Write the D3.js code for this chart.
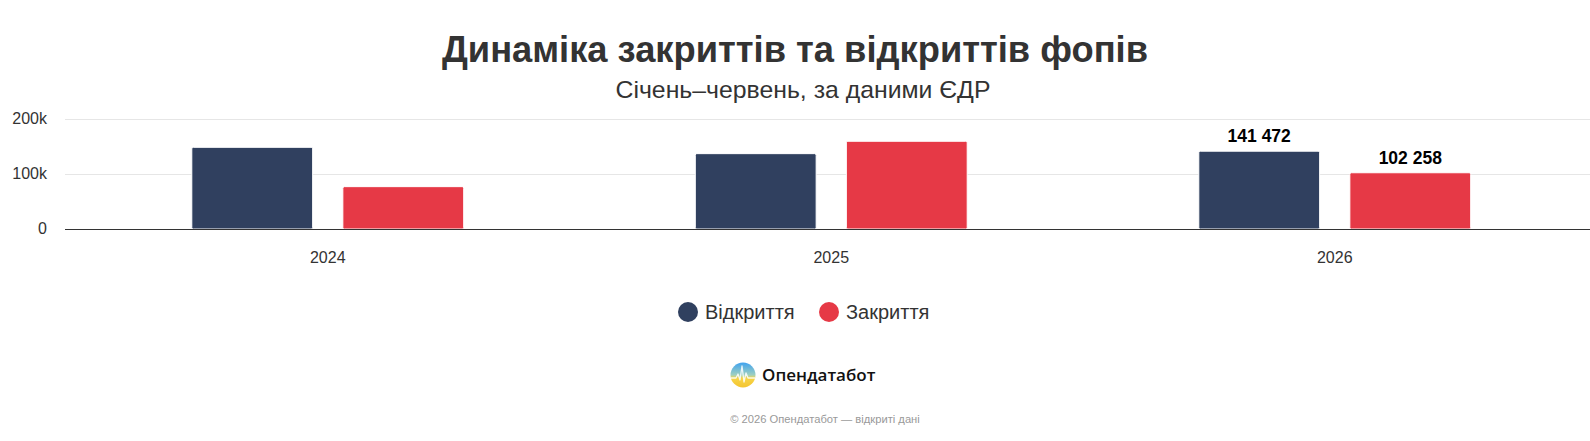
<!DOCTYPE html>
<html lang="uk">
<head>
    <meta charset="UTF-8">
    <title>Динаміка закриттів та відкриттів фопів</title>
    <script src="https://d3js.org/d3.v7.min.js"></script>
    <style>
        body {
            margin: 0;
            background: #fff;
            font-family: "Liberation Sans", Arial, Helvetica, sans-serif;
        }
        svg { display: block; }
        .grid line { stroke: #e6e6e6; }
        .tick-label { fill: #333; font-size: 16px; }
    </style>
</head>
<body>
    <svg width="1590" height="441"></svg>

    <script>
        // data
        const years = ["2024", "2025", "2026"];
        const seriesNames = ["Відкриття", "Закриття"];
        const openings = [148500, 137000, 141472];
        const closings = [77000, 159500, 102258];
        const yTicks = [0, 100000, 200000];
        const yTickLabels = ["0", "100k", "200k"];
        const colors = ["#30405f", "#e63946"];
        // only the last year gets value labels
        const labelledYear = "2026";

        const width = 1590;
        const height = 441;
        const margin = { top: 119, bottom: 229, left: 65, bandLeft: 76, bandRight: 1586.5 };

        const svg = d3.select("svg");

        const rows = years.map((y, i) => ({ year: y, values: [openings[i], closings[i]] }));

        // scales
        const x0 = d3.scaleBand()
            .domain(years)
            .range([margin.bandLeft, margin.bandRight]);

        const bw = x0.bandwidth();
        const x1 = d3.scaleBand()
            .domain(seriesNames)
            .range([0.2 * bw, 0.8 * bw])
            .paddingInner(0.2)
            .paddingOuter(0.1);

        const yScale = d3.scaleLinear()
            .domain([0, 200000])
            .range([margin.bottom, margin.top]);

        // title
        svg.append("text")
            .attr("x", width / 2)
            .attr("y", 62)
            .attr("text-anchor", "middle")
            .style("font-size", "36.3px")
            .style("font-weight", "bold")
            .style("fill", "#333")
            .text("Динаміка закриттів та відкриттів фопів");

        svg.append("text")
            .attr("x", width / 2 + 8)
            .attr("y", 98)
            .attr("text-anchor", "middle")
            .style("font-size", "24.8px")
            .style("fill", "#333")
            .text("Січень–червень, за даними ЄДР");

        // grid
        const grid = svg.append("g").attr("class", "grid");
        grid.selectAll("line")
            .data(yTicks.filter(d => d > 0))
            .join("line")
            .attr("x1", margin.left)
            .attr("x2", width)
            .attr("y1", d => Math.round(yScale(d)) + 0.5)
            .attr("y2", d => Math.round(yScale(d)) + 0.5);

        // y labels
        svg.append("g")
            .selectAll("text")
            .data(yTicks)
            .join("text")
            .attr("class", "tick-label")
            .attr("x", 47)
            .attr("y", d => yScale(d) + 5)
            .attr("text-anchor", "end")
            .text((d, i) => yTickLabels[i]);

        // bars
        const groups = svg.append("g")
            .selectAll("g")
            .data(rows)
            .join("g")
            .attr("transform", d => `translate(${x0(d.year)},0)`);

        groups.selectAll("rect")
            .data(d => d.values.map((v, i) => ({ year: d.year, name: seriesNames[i], value: v, i: i })))
            .join("rect")
            .attr("x", d => x1(d.name))
            .attr("y", d => yScale(d.value))
            .attr("width", x1.bandwidth())
            .attr("height", d => yScale(0) - yScale(d.value))
            .attr("rx", 1.5)
            .attr("fill", d => colors[d.i])
            .attr("stroke", "#fff")
            .attr("stroke-width", 1);

        // value labels
        const fmt = v => d3.format(",")(v).replace(/,/g, " ");
        groups.filter(d => d.year === labelledYear)
            .selectAll("text")
            .data(d => d.values.map((v, i) => ({ name: seriesNames[i], value: v })))
            .join("text")
            .attr("x", d => x1(d.name) + x1.bandwidth() / 2)
            .attr("y", d => yScale(d.value) - 9)
            .attr("text-anchor", "middle")
            .style("font-size", "17.5px")
            .style("font-weight", "bold")
            .style("fill", "#000")
            .style("paint-order", "stroke")
            .style("stroke", "#fff")
            .style("stroke-width", "2px")
            .text(d => fmt(d.value));

        // x axis
        svg.append("line")
            .attr("x1", margin.left)
            .attr("x2", width)
            .attr("y1", margin.bottom + 0.5)
            .attr("y2", margin.bottom + 0.5)
            .attr("stroke", "#333");

        svg.append("g")
            .selectAll("text")
            .data(years)
            .join("text")
            .attr("class", "tick-label")
            .attr("x", d => x0(d) + bw / 2)
            .attr("y", 263)
            .attr("text-anchor", "middle")
            .text(d => d);

        // legend
        const legendItems = [
            { name: seriesNames[0], cx: 688, tx: 705 },
            { name: seriesNames[1], cx: 829, tx: 846 }
        ];
        const legend = svg.append("g");
        legend.selectAll("circle")
            .data(legendItems)
            .join("circle")
            .attr("cx", d => d.cx)
            .attr("cy", 312)
            .attr("r", 10)
            .attr("fill", (d, i) => colors[i]);
        legend.selectAll("text")
            .data(legendItems)
            .join("text")
            .attr("x", d => d.tx)
            .attr("y", 319)
            .style("font-size", "20px")
            .style("fill", "#333")
            .text(d => d.name);

        // logo
        const defs = svg.append("defs");
        const grad = defs.append("linearGradient")
            .attr("id", "logoGrad")
            .attr("x1", 0).attr("y1", 0).attr("x2", 0).attr("y2", 1);
        grad.append("stop").attr("offset", "0%").attr("stop-color", "#3fa2f0");
        grad.append("stop").attr("offset", "50%").attr("stop-color", "#9fd0c0");
        grad.append("stop").attr("offset", "62%").attr("stop-color", "#f7d548");
        grad.append("stop").attr("offset", "100%").attr("stop-color", "#f4c430");

        svg.append("circle")
            .attr("cx", 743)
            .attr("cy", 375)
            .attr("r", 12.5)
            .attr("fill", "url(#logoGrad)");
        svg.append("path")
            .attr("d", "M731,378 L736,378 L738,374 L740,380 L742,366 L744,382 L746,373 L748,378 L755,378")
            .attr("fill", "none")
            .attr("stroke", "#fff")
            .attr("stroke-opacity", 0.85)
            .attr("stroke-width", 1.3)
            .attr("stroke-linejoin", "round");

        svg.append("text")
            .attr("x", 762)
            .attr("y", 381)
            .style("font-family", "'Open Sans', 'Noto Sans', sans-serif")
            .style("font-size", "17px")
            .style("font-weight", "600")
            .style("fill", "#111")
            .text("Опендатабот");

        // footer
        svg.append("text")
            .attr("x", width / 2 + 30)
            .attr("y", 423)
            .attr("text-anchor", "middle")
            .style("font-size", "11.2px")
            .style("fill", "#999")
            .text("© 2026 Опендатабот — відкриті дані");
    </script>
</body>
</html>
